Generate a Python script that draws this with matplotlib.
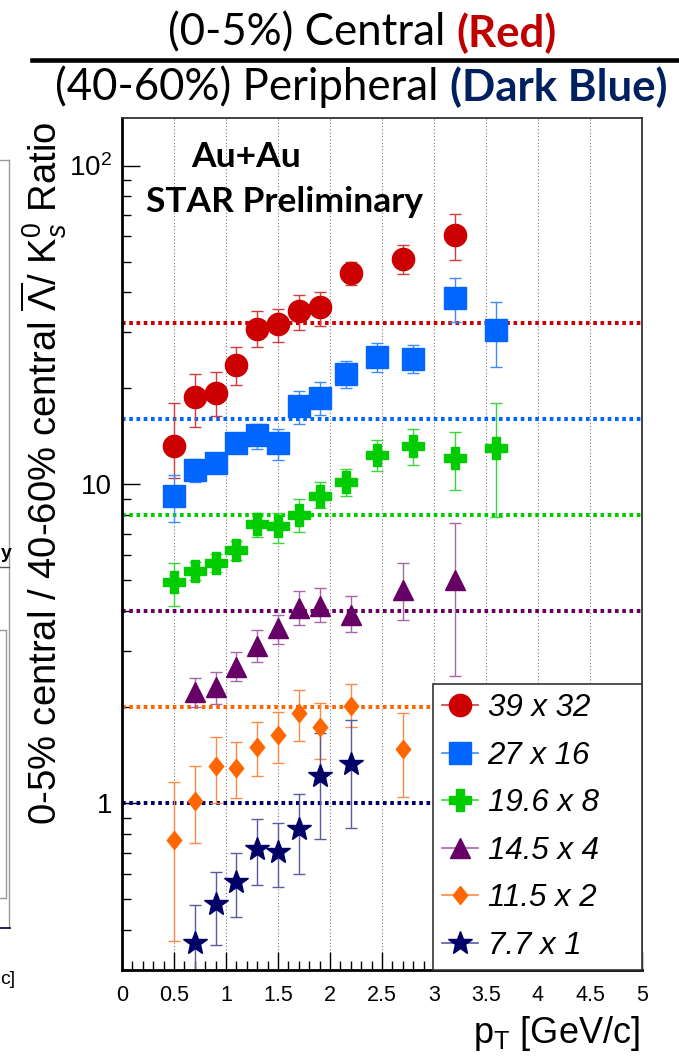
import numpy as np
import matplotlib
matplotlib.use("Agg")
import matplotlib.pyplot as plt
from matplotlib.lines import Line2D
from matplotlib.ticker import MultipleLocator, FixedLocator, FixedFormatter, LogLocator, NullFormatter, FuncFormatter

plt.rcParams['font.family'] = ['Liberation Sans', 'DejaVu Sans']
plt.rcParams['mathtext.fontset'] = 'custom'
plt.rcParams['mathtext.rm'] = 'Liberation Sans'
plt.rcParams['mathtext.it'] = 'Liberation Sans:italic'
plt.rcParams['mathtext.bf'] = 'Liberation Sans:bold'

# ---- data (ratio x scale factor), with lower/upper ends of error bars ----
pt_39 = [0.5, 0.7, 0.9, 1.1, 1.3, 1.5, 1.7, 1.9, 2.2, 2.7, 3.2]
r_39 = [13.2, 18.8, 19.4, 23.7, 30.8, 31.8, 35.0, 35.9, 46.0, 51.0, 60.4]
lo_39 = [10.5, 15.1, 16.4, 20.5, 27.0, 28.0, 30.6, 31.3, 42.1, 45.8, 50.7]
hi_39 = [18.0, 22.2, 22.5, 26.9, 34.9, 35.6, 39.4, 40.1, 49.8, 56.2, 70.3]

pt_27 = [0.5, 0.7, 0.9, 1.1, 1.3, 1.5, 1.7, 1.9, 2.15, 2.45, 2.8, 3.2, 3.6]
r_27 = [9.22, 11.1, 11.65, 13.45, 14.3, 13.45, 17.6, 18.7, 22.2, 25.1, 24.8, 38.3, 30.4]
lo_27 = [7.65, 10.2, 11.0, 12.7, 12.9, 11.9, 15.5, 16.5, 20.0, 22.5, 22.3, 32.3, 23.4]
hi_27 = [10.7, 12.0, 12.4, 14.2, 15.5, 14.9, 19.6, 20.9, 24.4, 27.8, 27.3, 44.4, 37.3]

pt_19 = [0.5, 0.7, 0.9, 1.1, 1.3, 1.5, 1.7, 1.9, 2.15, 2.45, 2.8, 3.2, 3.6]
r_19 = [4.93, 5.34, 5.67, 6.21, 7.52, 7.38, 8.03, 9.2, 10.2, 12.4, 13.2, 12.1, 13.0]
lo_19 = [4.17, 5.0, 5.32, 5.8, 6.84, 6.55, 7.11, 8.42, 9.2, 11.0, 11.5, 9.61, 7.93]
hi_19 = [5.67, 5.7, 6.05, 6.65, 8.16, 8.16, 8.99, 10.2, 11.2, 13.8, 14.9, 14.6, 18.0]

pt_14 = [0.7, 0.9, 1.1, 1.3, 1.5, 1.7, 1.9, 2.2, 2.7, 3.2]
r_14 = [2.24, 2.31, 2.68, 3.11, 3.55, 4.10, 4.17, 3.90, 4.68, 5.02]
lo_14 = [2.0, 2.05, 2.41, 2.78, 3.15, 3.63, 3.69, 3.44, 3.75, 2.50]
hi_14 = [2.48, 2.58, 2.98, 3.50, 3.90, 4.62, 4.73, 4.46, 5.67, 7.59]

pt_11 = [0.5, 0.7, 0.9, 1.1, 1.3, 1.5, 1.7, 1.9, 2.2, 2.7]
r_11 = [0.768, 1.017, 1.31, 1.29, 1.50, 1.64, 1.92, 1.73, 2.02, 1.48]
lo_11 = [0.371, 0.748, 1.0, 1.04, 1.22, 1.34, 1.57, 1.38, 1.73, 1.05]
hi_11 = [1.166, 1.31, 1.61, 1.56, 1.80, 1.94, 2.27, 2.07, 2.36, 1.92]

pt_7 = [0.7, 0.9, 1.1, 1.3, 1.5, 1.7, 1.9, 2.2]
r_7 = [0.364, 0.483, 0.565, 0.718, 0.701, 0.829, 1.22, 1.325]
lo_7 = [0.28, 0.36, 0.439, 0.555, 0.545, 0.60, 0.772, 0.835]
hi_7 = [0.481, 0.611, 0.697, 0.891, 0.866, 1.067, 1.66, 1.82]

labels = ["39 x 32", "27 x 16", "19.6 x 8", "14.5 x 4", "11.5 x 2", "7.7 x 1"]
scales = [32, 16, 8, 4, 2, 1]

colors = ['#cc0000', '#0066ff', '#00cc00', '#660066', '#ff6600', '#000066']
ecolors = ['#d23c3c', '#3d8bff', '#3ad63a', '#a866a8', '#ff8a45', '#5a5aa0']
thin_diamond = [(0, 1), (0.8, 0), (0, -1), (-0.8, 0), (0, 1)]
markers = ['o', 's', 'P', '^', thin_diamond, '*']
msizes = [16, 15.5, 16, 15, 13, 18]

W, H = 679, 1058
def fx(x): return x / W
def fy(y): return 1 - y / H

fig = plt.figure(figsize=(W / 100, H / 100), dpi=100)
ax = fig.add_axes([fx(122), fy(970), fx(642) - fx(122), fy(118) - fy(970)])

series = [(pt_39, r_39, lo_39, hi_39), (pt_27, r_27, lo_27, hi_27), (pt_19, r_19, lo_19, hi_19),
          (pt_14, r_14, lo_14, hi_14), (pt_11, r_11, lo_11, hi_11), (pt_7, r_7, lo_7, hi_7)]

for s, c in zip(scales, colors):
    ax.axhline(s, color=c, lw=2.9, ls=(0, (0.9, 0.9)), zorder=1.5)

handles = []
for (x, y, lo, hi), c, ec, m, ms in zip(series, colors, ecolors, markers, msizes):
    y = np.array(y)
    yerr = [y - np.array(lo), np.array(hi) - y]
    ax.errorbar(x, y, yerr=yerr, fmt='none', ecolor=ec, elinewidth=1.0, capsize=4, capthick=1.0, zorder=2)
    ax.plot(x, y, ls='none', marker=m, ms=ms, mfc=c, mec=c, zorder=3)
    handles.append(Line2D([0], [0], color=ec, lw=1.2, marker=m, ms=ms, mfc=c, mec=c))

ax.set_xlim(0, 5)
ax.set_yscale('log')
ax.set_ylim(0.30, 141)

ax.xaxis.set_major_locator(MultipleLocator(0.5))
ax.xaxis.set_minor_locator(MultipleLocator(0.1))
ax.xaxis.set_major_formatter(FuncFormatter(lambda v, p: '%g' % v))
ax.yaxis.set_major_locator(FixedLocator([1, 10, 100]))
ax.yaxis.set_major_formatter(FixedFormatter(['1', '10', '10$^2$']))
ax.yaxis.set_minor_locator(LogLocator(base=10, subs=range(2, 10)))
ax.yaxis.set_minor_formatter(NullFormatter())

ax.tick_params(axis='both', which='both', direction='in', top=False, right=False, color='black', width=1)
ax.tick_params(axis='both', which='major', length=13)
ax.tick_params(axis='both', which='minor', length=6.5)
ax.tick_params(axis='x', which='major', labelsize=15.5, pad=11)
ax.tick_params(axis='y', which='major', labelsize=20, pad=7)

ax.grid(axis='x', which='major', color='#777777', ls=(0, (1, 2)), lw=0.8)
ax.set_axisbelow(True)
for side in ['left', 'bottom']:
    ax.spines[side].set_linewidth(2)
    ax.spines[side].set_color('black')
for side in ['top', 'right']:
    ax.spines[side].set_linewidth(1.3)
    ax.spines[side].set_color('#333333')

leg = ax.legend(handles, labels, loc='lower left', bbox_to_anchor=(0.598, 0, 0.402, 0.33), mode='expand',
                borderaxespad=0, fancybox=False, edgecolor='#333333', framealpha=1, numpoints=1,
                prop={'family': 'Liberation Sans', 'style': 'italic', 'size': 22.5},
                handlelength=1.15, handletextpad=0.3, labelspacing=0.56, borderpad=0.3)
leg.get_frame().set_linewidth(1.2)

# in-plot labels
fig.text(fx(246), fy(157), "Au+Au", ha='center', va='center', fontsize=25.5, weight='bold', family='Lato')
fig.text(fx(284), fy(202), "STAR Preliminary", ha='center', va='center', fontsize=25.5, weight='bold', family='Lato')

# axis titles
fig.text(fx(44), fy(473), r"0-5% central / 40-60% central $\overline{\Lambda}$/ K$^{0}_{s}$ Ratio",
         rotation=90, ha='center', va='center', fontsize=27.5)
fig.text(fx(640), fy(1043), r"p$_{\mathrm{T}}$ [GeV/c]", ha='right', va='baseline', fontsize=26)

# header: central / peripheral
t1 = fig.text(fx(168), fy(33), "(0-5%) Central ", ha='left', va='center', fontsize=31.5, family='Lato')
ax.annotate("(Red)", xy=(1, 0.5), xycoords=t1, ha='left', va='center', fontsize=31.5,
            family='Lato', weight='bold', color='#c00000', annotation_clip=False)
fig.add_artist(Line2D([fx(32), fx(679)], [fy(59.5), fy(59.5)], color='black', lw=3.3))
t2 = fig.text(fx(55), fy(87), "(40-60%) Peripheral ", ha='left', va='center', fontsize=31.5, family='Lato')
ax.annotate("(Dark Blue)", xy=(1, 0.5), xycoords=t2, ha='left', va='center', fontsize=31.5,
            family='Lato', weight='bold', color='#002060', annotation_clip=False)

# clipped neighbour panel at the left edge
gray = '#999999'
fig.add_artist(Line2D([fx(0), fx(9)], [fy(160), fy(160)], color=gray, lw=1))
fig.add_artist(Line2D([fx(9), fx(9)], [fy(160), fy(928)], color=gray, lw=1))
fig.add_artist(Line2D([fx(0), fx(9)], [fy(567), fy(567)], color='#555555', lw=1))
fig.add_artist(Line2D([fx(0), fx(6), fx(6), fx(0)], [fy(630), fy(630), fy(898), fy(898)], color=gray, lw=1))
fig.add_artist(Line2D([fx(0), fx(10)], [fy(928), fy(928)], color='#000044', lw=1.2))
fig.text(fx(0.5), fy(553), "y", ha='left', va='center', fontsize=14, weight='bold')
fig.text(fx(0.5), fy(980), "c]", ha='left', va='center', fontsize=14)

fig.savefig("out.png", dpi=100)
